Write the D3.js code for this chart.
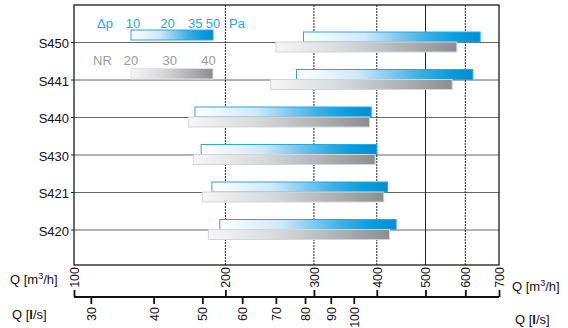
<!DOCTYPE html>
<html><head><meta charset="utf-8">
<script src="https://cdn.jsdelivr.net/npm/d3@7"></script>
<style>
body{margin:0;background:#fff;}
svg{font-family:"Liberation Sans",Arial,Helvetica,sans-serif;}
</style></head>
<body><svg id="c" width="568" height="328"></svg>
<script>
const models = ["S450","S441","S440","S430","S421","S420"];
const dpMin = [286,277,174,179,188,195];
const dpMax = [642,621,390,400,420,437];
const nrMin = [252,246,169,173,180,185];
const nrMax = [577,565,387,397,413,424];
const qTicks = [100,200,300,400,500,600,700];
const lsTicks = [30,40,50,60,70,80,90,100];
const dpLegend = [10,20,35,50];
const nrLegend = [20,30,40];

const svg = d3.select("#c");
const L=74,R=499,T=5,B=265;
const x = d3.scaleLog().domain([100,700]).range([L,R]);
const xls = d3.scaleLog().domain([100/3.6,700/3.6]).range([L,R]);
const y = d3.scalePoint().domain(models).range([42.5,230]);

const defs = svg.append("defs");
const gb = defs.append("linearGradient").attr("id","gBlue");
[[0,"#ffffff"],[0.35,"#cfe8f7"],[0.7,"#3aaee4"],[0.85,"#0aa0e0"],[1,"#008dd2"]].forEach(s=>gb.append("stop").attr("offset",s[0]).attr("stop-color",s[1]));
const gg = defs.append("linearGradient").attr("id","gGray");
[[0,"#f6f6f6"],[0.4,"#d6d7d9"],[0.8,"#a5a7ab"],[1,"#8b8d92"]].forEach(s=>gg.append("stop").attr("offset",s[0]).attr("stop-color",s[1]));

// row lines
svg.append("g").selectAll("line").data(models).join("line")
  .attr("x1",L).attr("x2",R).attr("y1",d=>y(d)).attr("y2",d=>y(d))
  .attr("stroke","#666").attr("stroke-width",1);
// y ticks
svg.append("g").selectAll("line").data(models).join("line")
  .attr("x1",L-3).attr("x2",L).attr("y1",d=>y(d)).attr("y2",d=>y(d))
  .attr("stroke","#222");
// vertical grid
svg.append("g").selectAll("line").data(qTicks.slice(1,-1)).join("line")
  .attr("x1",d=>x(d)).attr("x2",d=>x(d)).attr("y1",T).attr("y2",B)
  .attr("stroke","#222").attr("stroke-width",1)
  .attr("stroke-dasharray",d=>d===500?null:"2,1");

// y labels
svg.append("g").selectAll("text").data(models).join("text")
  .attr("x",69).attr("y",d=>y(d)+1).attr("dy","0.35em").attr("text-anchor","end")
  .attr("font-size",13).attr("fill","#111").text(d=>d);

// bars
const bars = svg.append("g");
models.forEach((m,i)=>{
  bars.append("rect").attr("x",x(dpMin[i])).attr("y",y(m)-10.5)
    .attr("width",x(dpMax[i])-x(dpMin[i])).attr("height",10)
    .attr("fill","url(#gBlue)").attr("stroke","#2aa6e0").attr("stroke-width",1);
  bars.append("rect").attr("x",x(nrMin[i])).attr("y",y(m)-0.5)
    .attr("width",x(nrMax[i])-x(nrMin[i])).attr("height",10)
    .attr("fill","url(#gGray)").attr("stroke","#d4d5d7").attr("stroke-width",1);
});

// frame
svg.append("rect").attr("x",L).attr("y",T).attr("width",R-L).attr("height",B-T)
  .attr("fill","none").attr("stroke","#1a1a1a").attr("stroke-width",1.3);

// legend
const lx0=131, lx1=213;
const ldp = d3.scaleLog().domain([10,50]).range([133,213]);
const lnr = d3.scaleLinear().domain([20,40]).range([131,208.5]);
svg.append("rect").attr("x",lx0).attr("y",30).attr("width",lx1-lx0).attr("height",10)
  .attr("fill","url(#gBlue)").attr("stroke","#2aa6e0");
svg.append("rect").attr("x",lx0).attr("y",68.5).attr("width",lx1-lx0).attr("height",10.5)
  .attr("fill","url(#gGray)").attr("stroke","#e2e2e2");
const blueTxt="#27a8e1", grayTxt="#9a9a9a";
svg.append("text").attr("x",97).attr("y",28).attr("font-size",13).attr("fill",blueTxt).text("Δp");
svg.append("g").selectAll("text").data(dpLegend).join("text")
  .attr("x",d=>ldp(d)).attr("y",28).attr("text-anchor","middle")
  .attr("font-size",13).attr("fill",blueTxt).text(d=>d);
svg.append("text").attr("x",229).attr("y",28).attr("font-size",13).attr("fill",blueTxt).text("Pa");
svg.append("text").attr("x",93).attr("y",65).attr("font-size",13).attr("fill",grayTxt).text("NR");
svg.append("g").selectAll("text").data(nrLegend).join("text")
  .attr("x",d=>lnr(d)).attr("y",65).attr("text-anchor","middle")
  .attr("font-size",13).attr("fill",grayTxt).text(d=>d);

// bottom dual axis
const axY=297;
const gTop = svg.append("g").attr("transform",`translate(0,${axY})`)
  .call(d3.axisTop(x).tickValues(qTicks).tickSize(7).tickPadding(0).tickFormat(d3.format("d")));
gTop.select(".domain").remove();
gTop.selectAll(".tick line").attr("stroke","#111").attr("stroke-width",1.8);
gTop.selectAll(".tick text").attr("x",0).attr("y",0)
  .attr("transform","translate(0,-30) rotate(-90)").attr("dy","0.35em")
  .attr("text-anchor","end").attr("font-size",12.5).attr("fill","#111")
  .attr("font-family",null);

const gBot = svg.append("g").attr("transform",`translate(0,${axY})`)
  .call(d3.axisBottom(xls).tickValues(lsTicks).tickSize(7).tickPadding(0).tickFormat(d3.format("d")));
gBot.select(".domain").remove();
gBot.selectAll(".tick line").attr("stroke","#111").attr("stroke-width",1.8);
gBot.selectAll(".tick text").attr("x",0).attr("y",0)
  .attr("transform","translate(0,10) rotate(-90)").attr("dy","0.35em")
  .attr("text-anchor","end").attr("font-size",12.5).attr("fill","#111")
  .attr("font-family",null);
svg.append("line").attr("x1",L).attr("x2",R).attr("y1",axY).attr("y2",axY)
  .attr("stroke","#111").attr("stroke-width",2);

// axis titles
function qm(xp,yp){
  const t=svg.append("text").attr("x",xp).attr("y",yp).attr("font-size",13).attr("fill","#111");
  t.append("tspan").text("Q [m");
  t.append("tspan").attr("font-size",9).attr("dy",-5).text("3");
  t.append("tspan").attr("dy",5).text("/h]");
}
function ql(xp,yp){
  const t=svg.append("text").attr("x",xp).attr("y",yp).attr("font-size",13).attr("fill","#111");
  t.append("tspan").text("Q [");
  t.append("tspan").attr("font-weight","bold").text("l");
  t.append("tspan").text("/s]");
}
qm(10,284); qm(512,291);
ql(12,319); ql(515,324);
</script></body></html>
